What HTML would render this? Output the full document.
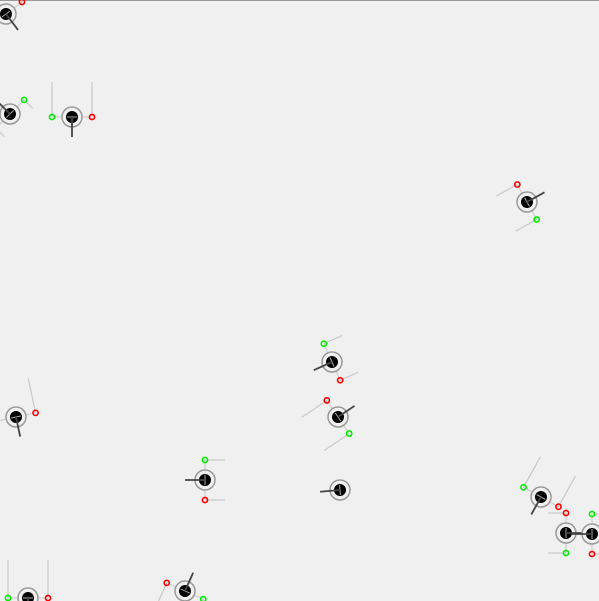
<!DOCTYPE html>
<html><head><meta charset="utf-8"><style>
html,body{margin:0;padding:0;background:#f0f0f0;}
svg{display:block;}
</style></head><body>
<svg id="sim" width="599" height="601" viewBox="0 0 599 601" xmlns="http://www.w3.org/2000/svg">
<rect x="0" y="0" width="599" height="601" fill="#f0f0f0"/>
<line x1="0" y1="0.5" x2="599" y2="0.5" stroke="#999" stroke-width="1"/>
<g id="robots"></g>
</svg>
<script>
// robot data: center x, center y, heading (deg), sensor-ray length, whether sensors shown
const robotX = [6, 10, 72, 527, 332, 338, 16, 205, 340, 541, 566, 592, 28, 185];
const robotY = [14, 114, 117, 202, 362, 417, 417, 480, 490, 497, 533, 534, 598, 591];
const heading = [53, -135, 90, -29, 156, -34, 78, 180, 175, 119, 0, 180, 90, -66];
const rayLen = [20, 12, 35, 24, 20, 30, 35, 20, 0, 35, 18, 10, 38, 20];
const hasSensors = [1, 1, 1, 1, 1, 1, 1, 1, 0, 1, 1, 1, 1, 1];

const NS = 'http://www.w3.org/2000/svg';
const g = document.getElementById('robots');
function mk(tag, attrs, parent){
  const e = document.createElementNS(NS, tag);
  for (const k in attrs) e.setAttribute(k, attrs[k]);
  parent.appendChild(e);
  return e;
}
const rad = d => d * Math.PI / 180;
for (let i = 0; i < robotX.length; i++) {
  const cx = robotX[i], cy = robotY[i], h = rad(heading[i]);
  const grp = mk('g', {}, g);
  
  
  if (hasSensors[i]) {
    const sens = [[h + Math.PI / 2, '#00ee00'], [h - Math.PI / 2, '#ff0000']];
    sens.forEach(([a, col], j) => {
      const sx = cx + 20 * Math.cos(a), sy = cy + 20 * Math.sin(a);
      mk('line', {x1: cx, y1: cy, x2: sx, y2: sy, stroke: '#cfcfcf', 'stroke-width': 1.2}, grp);
      const ray = mk('line', {x1: sx, y1: sy, x2: sx - rayLen[i] * Math.cos(h), y2: sy - rayLen[i] * Math.sin(h), stroke: '#c8c8c8', 'stroke-width': 1.2}, grp);
      
      
      const c = mk('circle', {cx: sx, cy: sy, r: 2.6, fill: 'none', stroke: col, 'stroke-width': 1.6}, grp);
      
      
    });
  }
  const ring = mk('circle', {cx: cx, cy: cy, r: 10, fill: '#f0f0f0', stroke: '#999', 'stroke-width': 1.5}, grp);
  
  
  const core = mk('circle', {cx: cx, cy: cy, r: 6, fill: '#000'}, grp);
  
  
  const p = h + Math.PI / 2;
  mk('line', {x1: cx - 5 * Math.cos(p), y1: cy - 5 * Math.sin(p), x2: cx + 5 * Math.cos(p), y2: cy + 5 * Math.sin(p), stroke: '#aaa', 'stroke-width': 1}, grp);
  const hd = mk('line', {x1: cx, y1: cy, x2: cx + 20 * Math.cos(h), y2: cy + 20 * Math.sin(h), stroke: '#444', 'stroke-width': 1.8}, grp);
  
  
}
</script>
</body></html>
